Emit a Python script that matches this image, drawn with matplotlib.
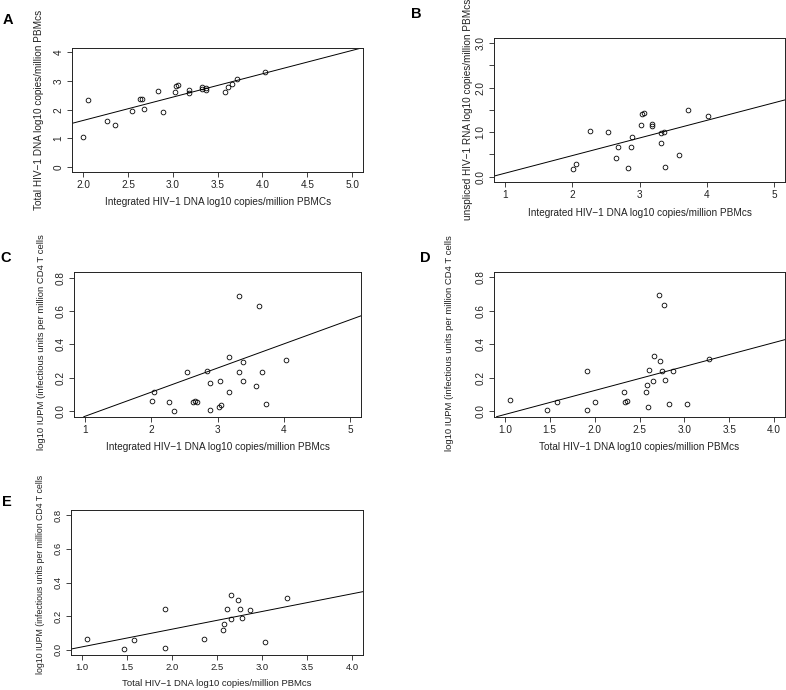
import matplotlib
matplotlib.use("Agg")
import matplotlib.pyplot as plt
import numpy as np

plt.rcParams['font.family'] = ['Liberation Sans', 'DejaVu Sans']

# ---------------- data ----------------
# Panel A: integrated vs total DNA
a_x = [2.00, 2.05, 2.26, 2.35, 2.54, 2.63, 2.66, 2.68, 2.83, 2.89, 3.02, 3.04,
       3.06, 3.18, 3.18, 3.32, 3.32, 3.37, 3.37, 3.58, 3.62, 3.66, 3.72, 4.03]
a_y = [1.06, 2.34, 1.59, 1.48, 1.94, 2.36, 2.37, 2.02, 2.64, 1.92, 2.62, 2.81,
       2.87, 2.68, 2.59, 2.79, 2.73, 2.76, 2.68, 2.60, 2.79, 2.90, 3.07, 3.30]
a_fit = (0.0, 0.813)  # intercept, slope

# Panel B: integrated DNA vs unspliced RNA
b_x = [2.01, 2.05, 2.27, 2.53, 2.65, 2.68, 2.83, 2.88, 2.89, 3.02, 3.04,
       3.06, 3.18, 3.18, 3.32, 3.32, 3.37, 3.38, 3.58, 3.72, 4.02]
b_y = [0.18, 0.28, 1.02, 1.01, 0.42, 0.67, 0.19, 0.66, 0.88, 1.15, 1.40,
       1.44, 1.19, 1.13, 0.97, 0.76, 1.01, 0.21, 0.48, 1.49, 1.37]
b_fit = (-0.32, 0.396)

# Panel C: integrated DNA vs IUPM
c_x = [2.01, 2.05, 2.27, 2.35, 2.54, 2.63, 2.66, 2.69, 2.84, 2.89, 2.89, 3.02,
       3.04, 3.06, 3.18, 3.18, 3.32, 3.32, 3.38, 3.38, 3.58, 3.62, 3.67, 3.73, 4.03]
c_y = [0.063, 0.115, 0.055, 0.002, 0.238, 0.053, 0.063, 0.053, 0.242, 0.008, 0.172, 0.026,
       0.184, 0.040, 0.325, 0.117, 0.693, 0.238, 0.295, 0.180, 0.152, 0.628, 0.234, 0.042, 0.307]
c_fit = (-0.175, 0.1447)

# Panel D: total DNA vs IUPM
d_x = [1.06, 1.47, 1.58, 1.92, 1.92, 2.00, 2.33, 2.34, 2.36, 2.57, 2.58, 2.60,
       2.61, 2.65, 2.66, 2.72, 2.73, 2.75, 2.77, 2.78, 2.83, 2.87, 3.03, 3.27]
d_y = [0.066, 0.006, 0.058, 0.242, 0.008, 0.056, 0.118, 0.056, 0.064, 0.118, 0.154, 0.028,
       0.246, 0.182, 0.327, 0.695, 0.297, 0.242, 0.631, 0.186, 0.044, 0.238, 0.046, 0.309]
d_fit = (-0.162, 0.143)

# Panel E: total DNA vs IUPM (subset)
e_x = [1.06, 1.47, 1.58, 1.92, 1.92, 2.36, 2.57, 2.58, 2.61, 2.65, 2.66,
       2.73, 2.75, 2.78, 2.87, 3.03, 3.27]
e_y = [0.066, 0.006, 0.058, 0.242, 0.008, 0.064, 0.118, 0.154, 0.244, 0.180, 0.327,
       0.297, 0.240, 0.186, 0.238, 0.044, 0.307]
e_fit = (-0.090, 0.1058)

M = "\u2212"
lab_int_C = f"Integrated HIV{M}1 DNA log10 copies/million PBMCs"
lab_int_c = f"Integrated HIV{M}1 DNA log10 copies/million PBMcs"
lab_tot = f"Total HIV{M}1 DNA log10 copies/million PBMcs"
lab_rna = f"unspliced HIV{M}1 RNA log10 copies/million PBMcs"
lab_iupm = "log10 IUPM (infectious units per million CD4 T cells"

W, H = 786, 690
fig = plt.figure(figsize=(W / 100, H / 100), dpi=100)

INK = '#222222'


def make_ax(l, t, r, b):
    return fig.add_axes([l / W, 1 - b / H, (r - l) / W, (b - t) / H])


def panel(box, x, y, fit, xlim, ylim, xticks, xlabels_shown, yticks, ylabels_shown,
          xlabel, ylabel, xlab_y, ylab_x, ylab_cy, letter, letter_xy,
          fs=7.2, yfs=7.2):
    l, t, r, b = box
    ax = make_ax(*box)
    ax.plot(x, y, linestyle='none', marker='o', markersize=3.4,
            markerfacecolor='none', markeredgecolor='black', markeredgewidth=0.6)
    ax.axline((0, fit[0]), slope=fit[1], color='black', lw=0.7)
    ax.set_xlim(*xlim)
    ax.set_ylim(*ylim)
    ax.set_xticks(xticks)
    ax.set_xticklabels(xlabels_shown)
    ax.set_yticks(yticks)
    ax.set_yticklabels(ylabels_shown)
    ax.tick_params(axis='both', direction='out', length=3.5, width=0.6,
                   labelsize=fs, pad=2.5, colors=INK)
    ax.tick_params(axis='y', labelrotation=90)
    for lab in ax.get_yticklabels():
        lab.set_va('center')
    for s in ax.spines.values():
        s.set_linewidth(0.7)
        s.set_color(INK)
    ax.set_xlabel(xlabel, fontsize=fs, va='center', color=INK)
    ax.set_ylabel(ylabel, fontsize=yfs, va='center', color=INK)
    ax.xaxis.set_label_coords(0.5, -(xlab_y - b) / (b - t))
    ax.yaxis.set_label_coords(-(l - ylab_x) / (r - l), (b - ylab_cy) / (b - t))
    fig.text(letter_xy[0] / W, 1 - letter_xy[1] / H, letter, fontsize=10.5,
             fontweight='bold', ha='center', va='center')
    return ax


def fmt(vals, keep=None):
    out = []
    for v in vals:
        if keep is not None and not keep(v):
            out.append("")
        else:
            out.append(f"{v:.1f}")
    return out


A_xt = [2.0, 2.5, 3.0, 3.5, 4.0, 4.5, 5.0]
A_yt = [0, 1, 2, 3, 4]
B_xt = [1, 2, 3, 4, 5]
B_yt = [0, 0.5, 1.0, 1.5, 2.0, 2.5, 3.0]
C_xt = [1, 2, 3, 4, 5]
IUPM_yt = [0, 0.2, 0.4, 0.6, 0.8]
TOT_xt = [1.0, 1.5, 2.0, 2.5, 3.0, 3.5, 4.0]

# A
panel((72, 47.7, 363.3, 171.7), a_x, a_y, a_fit,
      (1.875, 5.125), (-0.16, 4.16),
      A_xt, fmt(A_xt), A_yt, [str(v) for v in A_yt],
      lab_int_C, lab_tot, 202, 39, 109.7, "A", (7.5, 20))

# B
panel((494, 37.7, 785, 182), b_x, b_y, b_fit,
      (0.84, 5.16), (-0.12, 3.12),
      B_xt, [str(v) for v in B_xt],
      B_yt, fmt(B_yt, keep=lambda v: float(v).is_integer()),
      lab_int_c, lab_rna, 213, 468, 109.8, "B", (416.7, 14))

# C
panel((74, 272.3, 361, 416.7), c_x, c_y, c_fit,
      (0.84, 5.16), (-0.032, 0.832),
      C_xt, [str(v) for v in C_xt], IUPM_yt, fmt(IUPM_yt),
      lab_int_c, lab_iupm, 446.7, 42, 342, "C", (6, 258), yfs=6.8)

# D
panel((494, 271.7, 785, 416.7), d_x, d_y, d_fit,
      (0.88, 4.12), (-0.032, 0.832),
      TOT_xt, fmt(TOT_xt), IUPM_yt, fmt(IUPM_yt),
      lab_tot, lab_iupm, 446.7, 450, 343, "D", (425, 258), yfs=6.8)

# E
panel((70.7, 510, 363.3, 655), e_x, e_y, e_fit,
      (0.88, 4.12), (-0.032, 0.832),
      TOT_xt, fmt(TOT_xt), IUPM_yt, fmt(IUPM_yt),
      lab_tot, lab_iupm, 683, 41, 574, "E", (7, 502), fs=6.8, yfs=6.3)

fig.savefig("out.png", dpi=100)
